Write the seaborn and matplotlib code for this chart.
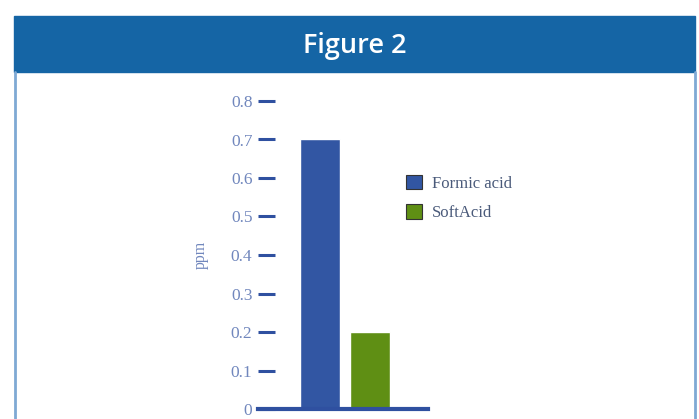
"""Figure 2: ppm of formic acid vs SoftAcid."""

import matplotlib.pyplot as plt
import pandas as pd
import seaborn as sns
from matplotlib.lines import Line2D
from matplotlib.patches import Patch, Rectangle

sns.set_theme(style="white")
plt.rcParams["font.family"] = ["Liberation Serif", "DejaVu Serif"]

PRODUCTS = ["Formic acid", "SoftAcid"]
PPM = [0.70, 0.20]
COLORS = ["#3256a3", "#5f8f14"]
Y_TICKS = [0, 0.1, 0.2, 0.3, 0.4, 0.5, 0.6, 0.7, 0.8]
Y_TICK_LABELS = ["0", "0.1", "0.2", "0.3", "0.4", "0.5", "0.6", "0.7", "0.8"]

HEADER_BLUE = "#1565a5"
AXIS_BLUE = "#2f50a0"
LABEL_BLUE = "#7187bd"


def main() -> None:
    df = pd.DataFrame({"product": PRODUCTS, "ppm": PPM})

    W, H = 699, 419
    fig = plt.figure(figsize=(W / 100, H / 100), dpi=100)

    # header band and frame
    fig.patches.append(Rectangle((14 / W, 1 - 72 / H), 681 / W, 56 / H,
                                 transform=fig.transFigure, color=HEADER_BLUE, zorder=0))
    fig.text(355 / W, 1 - 46 / H, "Figure 2", color="white", fontsize=19.5,
             fontweight="semibold", family=["Open Sans", "DejaVu Sans"], ha="center", va="center")
    for x in (15, 695):
        fig.lines.append(Line2D([x / W, x / W], [0, 1 - 72 / H], transform=fig.transFigure,
                                color="#7fa9d4", lw=2))

    ax = fig.add_axes([258 / W, 10 / H, 170 / W, 308 / H])
    sns.barplot(data=df, x="product", y="ppm", hue="product", palette=COLORS,
                width=0.8, legend=False, ax=ax, saturation=1)

    ax.set_xlim(-1.24, 2.16)
    ax.set_ylim(0, 0.8)
    ax.set_yticks(Y_TICKS)
    ax.set_yticklabels(Y_TICK_LABELS)
    ax.set_xticks([])
    ax.set_xlabel("")
    ax.set_ylabel("ppm", color=LABEL_BLUE, fontsize=11.5, labelpad=16)
    for side in ("left", "top", "right"):
        ax.spines[side].set_visible(False)
    ax.spines["bottom"].set_color(AXIS_BLUE)
    ax.spines["bottom"].set_linewidth(3)
    ax.tick_params(axis="y", left=True, length=12, width=2.2, color=AXIS_BLUE,
                   labelcolor=LABEL_BLUE, labelsize=12.5, pad=4, direction="in")
    ax.patch.set_alpha(0)

    handles = [Patch(facecolor=c, edgecolor="#333333", lw=0.8) for c in COLORS]
    fig.legend(handles, PRODUCTS, loc="upper left", bbox_to_anchor=(391 / W, 1 - 160 / H),
               frameon=False, fontsize=12, handlelength=0.95, handleheight=0.95,
               handletextpad=0.6, labelspacing=0.75, labelcolor="#4a5a7a")

    fig.savefig("out.png", dpi=100)
    plt.close(fig)


if __name__ == "__main__":
    main()
